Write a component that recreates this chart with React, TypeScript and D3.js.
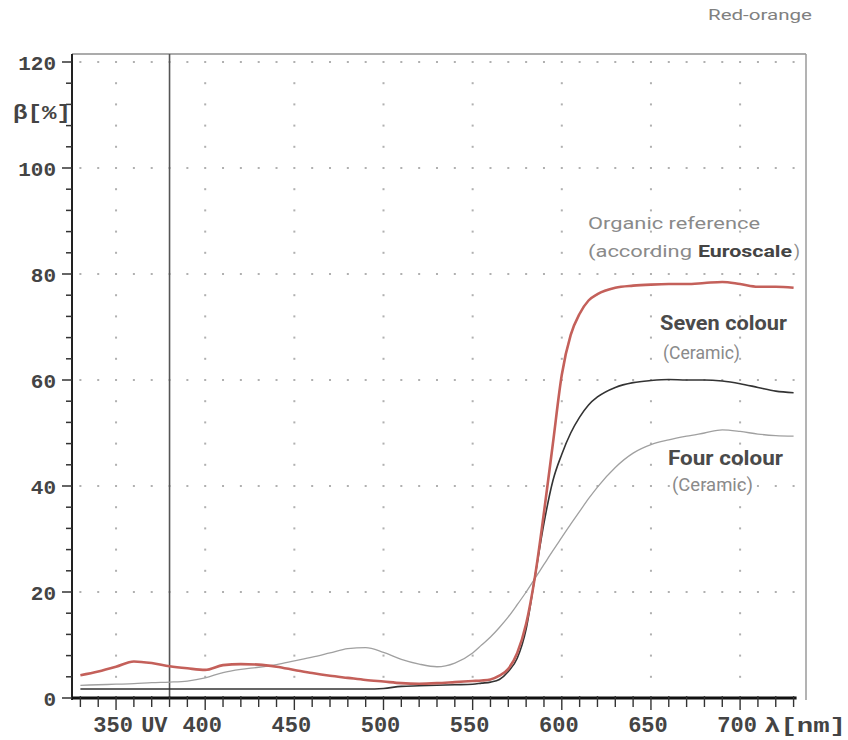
import React from "react";
import * as d3 from "d3";

const wavelengths = [330, 340, 350, 360, 370, 380, 390, 400, 410, 420, 430, 440, 450, 460, 470, 480, 490, 500, 510, 520, 530, 540, 550, 555, 560, 565, 570, 575, 580, 585, 590, 595, 600, 605, 610, 615, 620, 630, 640, 650, 660, 670, 680, 690, 700, 710, 720, 730];

const organicReference = [4.3, 5.0, 5.9, 6.9, 6.6, 6.0, 5.6, 5.3, 6.2, 6.4, 6.3, 5.9, 5.3, 4.7, 4.2, 3.8, 3.4, 3.1, 2.8, 2.7, 2.8, 3.0, 3.2, 3.3, 3.5, 4.2, 5.5, 8.5, 14, 23, 35, 48, 61, 68.5, 72.5, 75, 76.2, 77.4, 77.8, 78.0, 78.1, 78.1, 78.3, 78.5, 78.1, 77.6, 77.6, 77.4];

const sevenColour = [1.7, 1.7, 1.7, 1.7, 1.7, 1.7, 1.7, 1.7, 1.7, 1.7, 1.7, 1.7, 1.7, 1.7, 1.7, 1.7, 1.7, 1.8, 2.2, 2.3, 2.4, 2.5, 2.6, 2.8, 3.0, 3.5, 5.0, 7.5, 13, 23, 33, 41, 46, 50, 53, 55.3, 56.8, 58.6, 59.5, 59.9, 60.1, 60.0, 60.0, 59.8, 59.3, 58.6, 57.9, 57.6];

const fourColour = [2.4, 2.5, 2.6, 2.7, 2.9, 3.0, 3.2, 3.8, 4.8, 5.4, 5.8, 6.3, 7.0, 7.7, 8.5, 9.3, 9.5, 8.6, 7.3, 6.4, 5.9, 6.6, 8.5, 10, 11.5, 13.3, 15.3, 17.6, 20, 22.6, 25.2, 27.8, 30.3, 32.8, 35.2, 37.6, 39.8, 43.5, 46.2, 47.8, 48.7, 49.4, 50.0, 50.6, 50.3, 49.8, 49.5, 49.4];

const yMajorTicks = [0, 20, 40, 60, 80, 100, 120];
const xLabelTicks = [350, 400, 450, 500, 550, 600, 650, 700];
const xGridColumns = [350, 400, 450, 500, 550, 600, 650, 700];
const uvWavelength = 380;

export default function App() {
  const W = 848;
  const H = 740;
  const x = d3.scaleLinear().domain([500, 700]).range([383.5, 740.1]);
  const y = d3.scaleLinear().domain([0, 120]).range([698, 62]);

  const xLeft = 72;
  const xRight = 806;
  const yTop = 54;
  const yBottom = 699;

  const xMinorTicks = d3.range(330, 731, 10);
  const yMinorTicks = d3.range(0, 121, 4);

  const line = (vals: number[]) =>
    d3
      .line<number>()
      .x((_, i) => x(wavelengths[i]))
      .y((d) => y(d))
      .curve(d3.curveMonotoneX)(vals) || "";

  const monoFont = "'Liberation Mono', 'DejaVu Sans Mono', monospace";
  const narrowFont = "'Liberation Sans Narrow', 'Roboto', 'Liberation Sans', sans-serif";

  const dots: JSX.Element[] = [];
  yMajorTicks
    .filter((v) => v > 0)
    .forEach((v) => {
      xMinorTicks.forEach((w) => {
        dots.push(<rect key={`h${v}-${w}`} x={x(w) - 1} y={y(v) - 1} width={2} height={2} fill="#b0b0b0" />);
      });
    });
  xGridColumns.forEach((w) => {
    yMinorTicks
      .filter((v) => v > 0 && v % 20 !== 0)
      .forEach((v) => {
        dots.push(<rect key={`v${w}-${v}`} x={x(w) - 1} y={y(v) - 1} width={2} height={2} fill="#b0b0b0" />);
      });
  });

  return (
    <svg width={W} height={H} style={{ position: "absolute", left: 0, top: 0, background: "#fff" }}>
      <rect x={0} y={0} width={W} height={H} fill="#fff" />
      {dots}
      {/* frame */}
      <line x1={xLeft} y1={yTop} x2={xRight} y2={yTop} stroke="#8f8f8f" strokeWidth={1.5} />
      <line x1={xRight} y1={yTop} x2={xRight} y2={yBottom + 1} stroke="#9a9a9a" strokeWidth={1.5} />
      {/* UV line */}
      <line x1={x(uvWavelength)} y1={yTop} x2={x(uvWavelength)} y2={yBottom} stroke="#555" strokeWidth={1.6} />
      {/* curves */}
      <path d={line(fourColour)} fill="none" stroke="#a0a0a0" strokeWidth={1.3} />
      <path d={line(sevenColour)} fill="none" stroke="#333" strokeWidth={1.6} />
      <path d={line(organicReference)} fill="none" stroke="#c4605a" strokeWidth={2.6} />
      {/* y axis */}
      <line x1={xLeft} y1={yTop} x2={xLeft} y2={yBottom + 1} stroke="#222" strokeWidth={2} />
      {yMinorTicks.map((v) => (
        <line
          key={`yt${v}`}
          x1={xLeft - (v % 20 === 0 ? 10 : 6)}
          x2={xLeft}
          y1={y(v)}
          y2={y(v)}
          stroke="#333"
          strokeWidth={1.5}
        />
      ))}
      {yMajorTicks.map((v) => (
        <text
          key={`yl${v}`}
          x={56}
          y={y(v)}
          dy="0.36em"
          textAnchor="end"
          fontFamily={monoFont}
          fontWeight="bold"
          fontSize={21}
          fill="#444"
        >
          {v}
        </text>
      ))}
      <text x={13} y={119} fontFamily={monoFont} fontWeight="bold" fontSize={20} fill="#444" textLength={58} lengthAdjust="spacingAndGlyphs">
        β[%]
      </text>
      {/* x axis */}
      <line x1={xLeft} y1={yBottom - 1} x2={x(730) + 3} y2={yBottom - 1} stroke="#111" strokeWidth={3.2} />
      {xMinorTicks.map((w) => (
        <line
          key={`xt${w}`}
          x1={x(w)}
          x2={x(w)}
          y1={yBottom - 3}
          y2={yBottom + (w % 50 === 0 ? 11 : 8)}
          stroke="#333"
          strokeWidth={1.4}
        />
      ))}
      {xLabelTicks.map((w) => (
        <text
          key={`xl${w}`}
          x={x(w) - 3}
          y={732}
          textAnchor="middle"
          fontFamily={monoFont}
          fontWeight="bold"
          fontSize={22}
          fill="#444"
        >
          {w}
        </text>
      ))}
      <text x={x(uvWavelength) - 2} y={732} textAnchor="end" fontFamily={monoFont} fontWeight="bold" fontSize={22} fill="#444">
        UV
      </text>
      <text x={764} y={732} fontFamily={monoFont} fontWeight="bold" fontSize={21} fill="#444" textLength={82} lengthAdjust="spacingAndGlyphs">
        λ[nm]
      </text>
      {/* title */}
      <text x={708} y={20} fontFamily={narrowFont} fontSize={15} fill="#808080" textLength={104} lengthAdjust="spacingAndGlyphs">
        Red-orange
      </text>
      {/* annotations */}
      <text x={588} y={229} fontFamily={narrowFont} fontSize={17} fill="#8a8a8a" textLength={172} lengthAdjust="spacingAndGlyphs">
        Organic reference
      </text>
      <text x={588} y={257} fontFamily={narrowFont} fontSize={17} fill="#8a8a8a" textLength={104} lengthAdjust="spacingAndGlyphs">
        (according
      </text>
      <text x={698} y={257} fontFamily={narrowFont} fontWeight="bold" fontSize={17} fill="#444" textLength={94} lengthAdjust="spacingAndGlyphs">
        Euroscale
      </text>
      <text x={794} y={257} fontFamily={narrowFont} fontSize={17} fill="#8a8a8a">
        )
      </text>
      <text x={660} y={330} fontFamily={narrowFont} fontWeight="bold" fontSize={21} fill="#4a4a4a" textLength={127} lengthAdjust="spacingAndGlyphs">
        Seven colour
      </text>
      <text x={663} y={359} fontFamily={narrowFont} fontSize={19} fill="#8a8a8a" textLength={77} lengthAdjust="spacingAndGlyphs">
        (Ceramic)
      </text>
      <text x={668} y={465} fontFamily={narrowFont} fontWeight="bold" fontSize={21} fill="#4a4a4a" textLength={115} lengthAdjust="spacingAndGlyphs">
        Four colour
      </text>
      <text x={672} y={491} fontFamily={narrowFont} fontSize={19} fill="#8a8a8a" textLength={81} lengthAdjust="spacingAndGlyphs">
        (Ceramic)
      </text>
    </svg>
  );
}
